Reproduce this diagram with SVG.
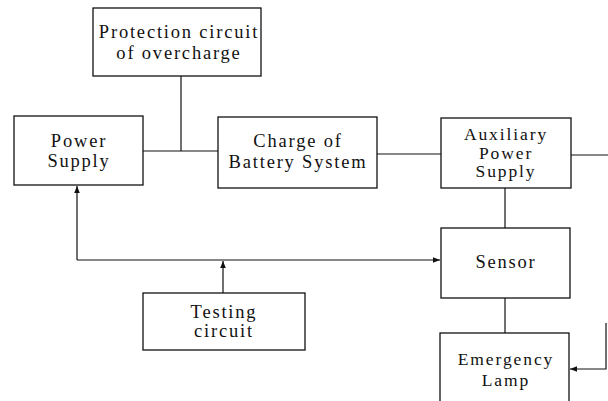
<svg xmlns="http://www.w3.org/2000/svg" width="608" height="401" viewBox="0 0 608 401">
<style>
.box{fill:#fff;stroke:#111;stroke-width:1.3}
.ln{fill:none;stroke:#111;stroke-width:1.2}
text{font-family:"Liberation Serif","Times New Roman",serif;font-size:18.5px;fill:#111;text-anchor:middle;letter-spacing:1.8px}
.tight text{font-size:17.5px;letter-spacing:1.9px}
</style>
<defs>
<marker id="ar" viewBox="0 0 10 10" refX="10" refY="5" markerWidth="7" markerHeight="7" orient="auto" markerUnits="userSpaceOnUse">
<path d="M0,1 L10,5 L0,9 Z" fill="#111"/>
</marker>
</defs>
<g id="connectors">
<path class="ln" d="M143,151 H218"/>
<path class="ln" d="M181,76 V151"/>
<path class="ln" d="M377,154 H441"/>
<path class="ln" d="M571,155 H608"/>
<path class="ln" d="M505,188 V228"/>
<path class="ln" d="M505,298 V333"/>
<path class="ln" d="M77,260 V186" marker-end="url(#ar)"/>
<path class="ln" d="M77,260 H440" marker-end="url(#ar)"/>
<path class="ln" d="M223,293 V261" marker-end="url(#ar)"/>
<path class="ln" d="M606,323 V369 H570" marker-end="url(#ar)"/>
</g>
<g id="protection">
<rect class="box" x="93" y="8" width="168" height="68"/>
<text x="179" y="38">Protection circuit</text>
<text x="179" y="59">of overcharge</text>
</g>
<g id="power-supply">
<rect class="box" x="14" y="116" width="129" height="69"/>
<text x="79" y="147">Power</text>
<text x="79" y="167">Supply</text>
</g>
<g id="charge">
<rect class="box" x="218" y="117" width="159" height="71"/>
<text x="298" y="147">Charge of</text>
<text x="298" y="168">Battery System</text>
</g>
<g id="auxiliary" class="tight">
<rect class="box" x="441" y="118" width="130" height="70"/>
<text x="506" y="140">Auxiliary</text>
<text x="506" y="158.5">Power</text>
<text x="506" y="177">Supply</text>
</g>
<g id="sensor">
<rect class="box" x="441" y="228" width="129" height="70"/>
<text x="506" y="268">Sensor</text>
</g>
<g id="testing">
<rect class="box" x="143" y="293" width="162" height="57"/>
<text x="224" y="318">Testing</text>
<text x="224" y="337">circuit</text>
</g>
<g id="emergency" class="tight">
<rect class="box" x="440" y="333" width="129" height="80"/>
<text x="506" y="364.5">Emergency</text>
<text x="506" y="385.5">Lamp</text>
</g>
</svg>
